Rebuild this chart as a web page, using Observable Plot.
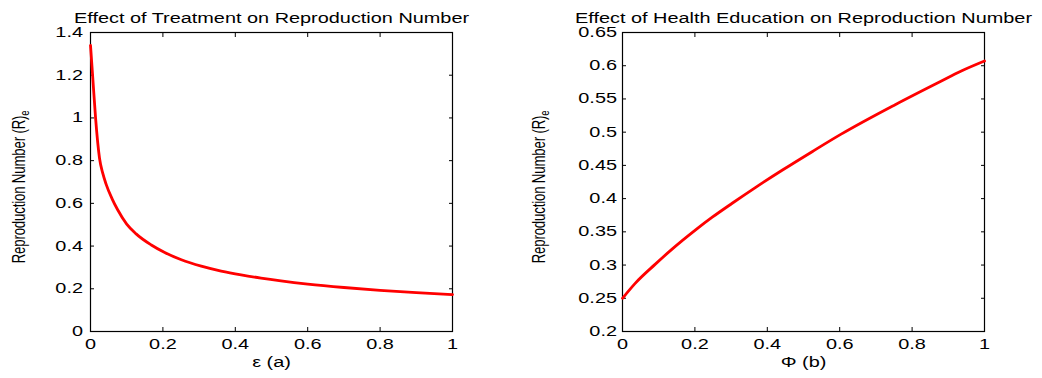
<!DOCTYPE html>
<html>
<head>
<meta charset="utf-8">
<script src="https://cdn.jsdelivr.net/npm/d3@7"></script>
<script src="https://cdn.jsdelivr.net/npm/@observablehq/plot@0.6"></script>
<style>
  body { margin: 0; background: #fff; }
  #chart { display: flex; width: 1042px; height: 378px; }
</style>
</head>
<body>
<div id="chart"></div>
<script>
// Panel (a): effect of treatment
const epsilon = [0, 0.0066, 0.014, 0.025, 0.034, 0.043, 0.06, 0.075, 0.1, 0.126, 0.168, 0.205, 0.251, 0.306, 0.361, 0.416, 0.471, 0.526, 0.6, 0.7, 0.8, 0.9, 1];
const reTreatment = [1.34, 1.18, 1.0, 0.81, 0.74, 0.69, 0.62, 0.57, 0.503, 0.457, 0.405, 0.37, 0.336, 0.306, 0.283, 0.265, 0.25, 0.237, 0.222, 0.206, 0.193, 0.182, 0.173];

// Panel (b): effect of health education
const phi = [0, 0.035, 0.09, 0.137, 0.202, 0.248, 0.303, 0.368, 0.442, 0.525, 0.604, 0.752, 0.881, 0.936, 1];
const reEducation = [0.25, 0.2725, 0.301, 0.324, 0.353, 0.372, 0.393, 0.417, 0.443, 0.471, 0.497, 0.541, 0.577, 0.592, 0.607];

const xTicks = [0, 0.2, 0.4, 0.6, 0.8, 1];
const yTicksA = [0, 0.2, 0.4, 0.6, 0.8, 1, 1.2, 1.4];
const yTicksB = [0.2, 0.25, 0.3, 0.35, 0.4, 0.45, 0.5, 0.55, 0.6, 0.65];

const titles = ["Effect of Treatment on Reproduction Number", "Effect of Health Education on Reproduction Number"];
const xLabels = ["ε (a)", "Φ (b)"];
const yLabelMain = "Reproduction Number (R)";
const yLabelSub = "e";

const STRETCH = 1.42;

function stretchText(svg) {
  d3.select(svg).selectAll("text").each(function () {
    const t = this.getAttribute("transform") || "";
    const m = /translate\(\s*([-\d.e]+)[,\s]*([-\d.e]+)?\s*\)/.exec(t);
    const X = (m ? +m[1] : 0) + (parseFloat(this.getAttribute("x")) || 0);
    this.setAttribute("transform", `translate(${X},0) scale(${STRETCH},1) translate(${-X},0) ${t}`);
  });
}

function panel({xs, ys, yDomain, yTicks, title, xLabel, marginLeft, marginRight, yPad}) {
  const data = xs.map((x, i) => ({x, y: ys[i]}));
  const svg = Plot.plot({
    width: 521,
    height: 378,
    marginLeft,
    marginRight,
    marginTop: 32,
    marginBottom: 47,
    style: {fontFamily: "'Liberation Sans', Arial, sans-serif", fontSize: "14px", color: "#000", background: "#fff"},
    x: {domain: [0, 1], label: null},
    y: {domain: yDomain, label: null},
    marks: [
      Plot.axisX(xTicks, {anchor: "bottom", tickSize: -4, tickPadding: 12, tickFormat: d => String(d), label: null}),
      Plot.axisX(xTicks, {anchor: "top", tickSize: -4, fill: "none", tickFormat: () => "", label: null}),
      Plot.axisY(yTicks, {anchor: "left", tickSize: -4, tickPadding: yPad, tickFormat: d => String(d), label: null}),
      Plot.axisY(yTicks, {anchor: "right", tickSize: -4, fill: "none", tickFormat: () => "", label: null}),
      Plot.frame({stroke: "#000", strokeWidth: 1.2}),
      Plot.line(data, {x: "x", y: "y", stroke: "#ff0000", strokeWidth: 2.8, curve: "monotone-x"}),
      Plot.text([title], {frameAnchor: "top", dy: -19, fontSize: 14}),
      Plot.text([xLabel], {frameAnchor: "bottom", dy: 35, fontSize: 14})
    ]
  });
  stretchText(svg);
  return svg;
}

function addYLabel(svg, x, y) {
  const t = d3.select(svg).append("text")
    .attr("transform", `translate(${x},${y}) rotate(-90) scale(1,1.42)`)
    .attr("text-anchor", "middle")
    .attr("fill", "#000")
    .style("font-family", "'Liberation Sans', Arial, sans-serif")
    .style("font-size", "13.3px")
    .style("letter-spacing", "-0.2px");
  t.append("tspan").text(yLabelMain);
  t.append("tspan").attr("dy", 3).style("font-size", "9.5px").text(yLabelSub);
}

const left = panel({xs: epsilon, ys: reTreatment, yDomain: [0, 1.4], yTicks: yTicksA, title: titles[0], xLabel: xLabels[0], marginLeft: 90, marginRight: 69, yPad: 11.5});
const right = panel({xs: phi, ys: reEducation, yDomain: [0.2, 0.65], yTicks: yTicksB, title: titles[1], xLabel: xLabels[1], marginLeft: 101, marginRight: 58, yPad: 9.5});
addYLabel(left, 25, 187);
addYLabel(right, 24, 187);

const chart = document.getElementById("chart");
chart.appendChild(left);
chart.appendChild(right);
</script>
</body>
</html>
